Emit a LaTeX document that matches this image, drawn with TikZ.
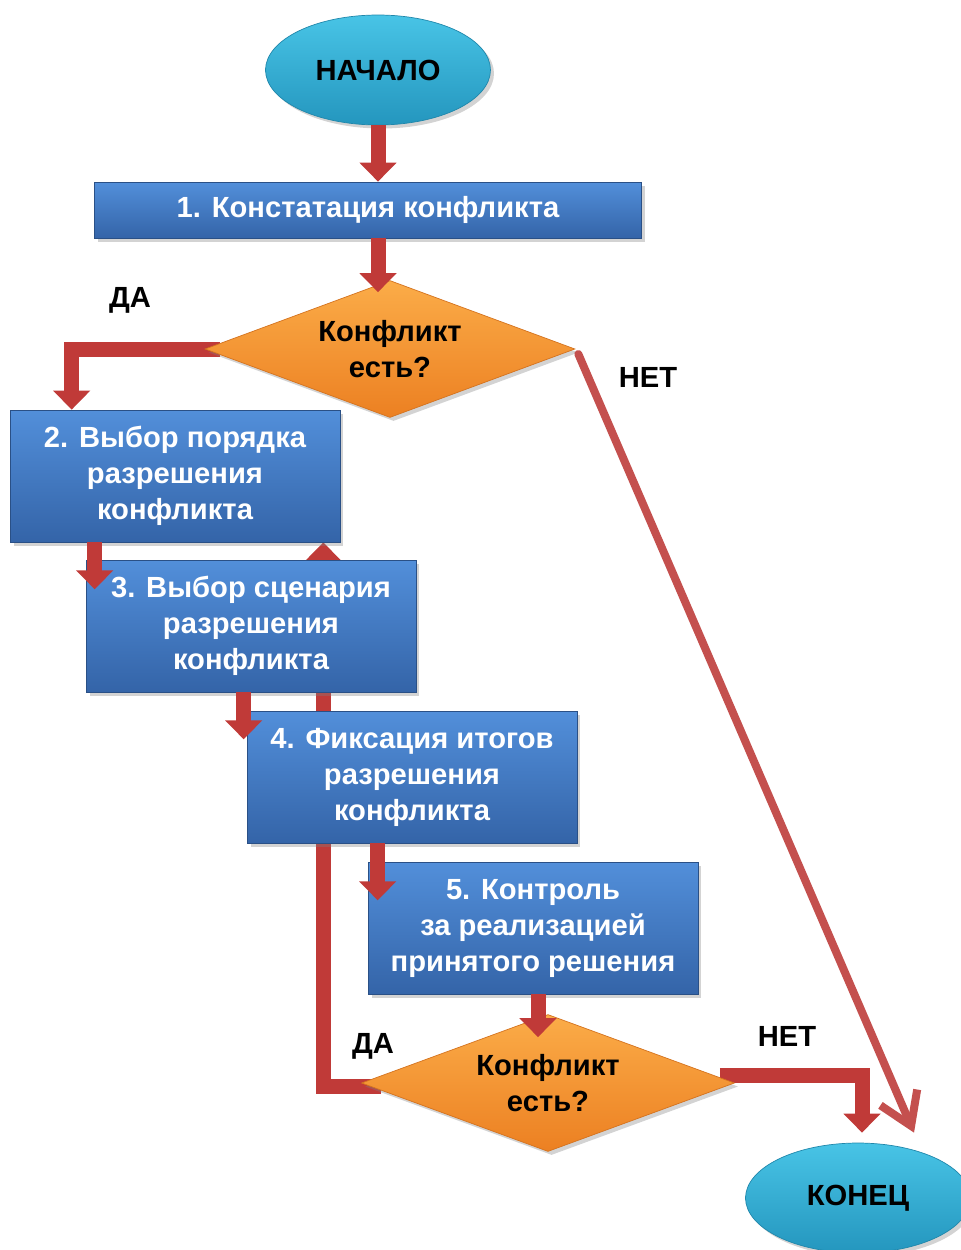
\documentclass[tikz,border=0pt]{standalone}
\usepackage{fontspec}
\setmainfont{Liberation Sans}
\usetikzlibrary{shapes.geometric,arrows.meta,positioning,calc,backgrounds,shadows}

\definecolor{boxtop}{RGB}{82,143,218}
\definecolor{boxbot}{RGB}{52,100,168}
\definecolor{dectop}{RGB}{251,172,72}
\definecolor{decbot}{RGB}{236,128,34}
\definecolor{ovaltop}{RGB}{72,196,230}
\definecolor{ovalbot}{RGB}{36,150,190}
\definecolor{arrred}{RGB}{192,58,56}
\definecolor{linered}{RGB}{196,80,78}

\begin{document}
\begin{tikzpicture}[
  x=0.02cm, y=-0.02cm,
  flowstep/.style={rectangle, top color=boxtop, bottom color=boxbot, draw=boxbot!80!black, thin,
    minimum width=6.6cm, minimum height=2.64cm, inner sep=2pt, align=center, text=white,
    font=\fontsize{16.6}{20.5}\selectfont\bfseries,
    drop shadow={shadow xshift=2pt, shadow yshift=-2pt, opacity=0.35}},
  dec/.style={diamond, aspect=2.7, top color=dectop, bottom color=decbot, draw=decbot!90!black, thin,
    minimum width=7.4cm, minimum height=2.74cm, inner sep=0pt, align=center,
    font=\fontsize{16.6}{20.5}\selectfont\bfseries,
    drop shadow={shadow xshift=2pt, shadow yshift=-2pt, opacity=0.35}},
  oval/.style={ellipse, top color=ovaltop, bottom color=ovalbot, draw=ovalbot!90!black, thin,
    minimum width=4.5cm, minimum height=2.2cm, font=\fontsize{16.6}{20.5}\selectfont\bfseries,
    drop shadow={shadow xshift=2pt, shadow yshift=-2pt, opacity=0.35}},
  arr/.style={-{Triangle[length=0.38cm, width=0.72cm]}, line width=0.3cm, arrred, line join=miter},
  thinarr/.style={-{Straight Barb[length=0.62cm, width=0.8cm]}, line width=0.16cm, linered,
    line cap=round, line join=round},
  lbl/.style={font=\fontsize{16.6}{20}\selectfont\bfseries, inner sep=1pt}
]
\useasboundingbox (0,0) rectangle (960,1250);

\node[oval] (start) at (378,70) {НАЧАЛО};
\node[flowstep, minimum width=10.94cm, minimum height=1.12cm] (c1) at (368,210) {1. Констатация конфликта};
\node[dec] (d1) at (390,349) {Конфликт\\есть?};
\node[flowstep] (c2) at (175,476) {2. Выбор порядка\\разрешения\\конфликта};
\node[flowstep] (c3) at (251,626) {3. Выбор сценария\\разрешения\\конфликта};
\node[flowstep] (c4) at (412,777) {4. Фиксация итогов\\разрешения\\конфликта};
\node[flowstep] (c5) at (533,928) {5. Контроль\\за реализацией\\принятого решения};
\node[dec, minimum width=7.46cm] (d2) at (548,1083) {Конфликт\\есть?};
\node[oval] (finish) at (858,1198) {КОНЕЦ};

\node[lbl] (yes1) at (130,300) {ДА};
\node[lbl] (no1) at (648,377) {НЕТ};
\node[lbl] (yes2) at (373,1046) {ДА};
\node[lbl] (no2) at (787,1036) {НЕТ};

% branches under the shapes
\begin{scope}[on background layer]
\draw[arr] ($(d1.west)+(15,0)$) -| ($(c2.north west)+(62,0)$);
\draw[arr] ($(d2.west)+(20,3)$) -| ($(c2.south east)+(-17,0)$);
\draw[arr] ($(d2.east)+(-15,-8)$) -| ($(finish.north)+(4,-10)$);
\end{scope}

\draw[thinarr] ($(d1.east)+(3,5)$) -- ($(finish.north)+(56,-10)$);

% main chain
\draw[arr] (start.south) -- (c1.north -| start.south);
\draw[arr] (c1.south -| start.south) -- ($(d1.north -| start.south)+(0,12)$);
\draw[arr] ($(c2.south west)+(85,0)$) -- ($(c2.south west)+(85,47)$);
\draw[arr] ($(c3.south west)+(158,0)$) -- ($(c3.south west)+(158,47)$);
\draw[arr] ($(c4.south west)+(131,0)$) -- ($(c4.south west)+(131,57)$);
\draw[arr] ($(c5.south)+(5,0)$) -- ($(d2.north)+(-10,23)$);

\end{tikzpicture}
\end{document}
